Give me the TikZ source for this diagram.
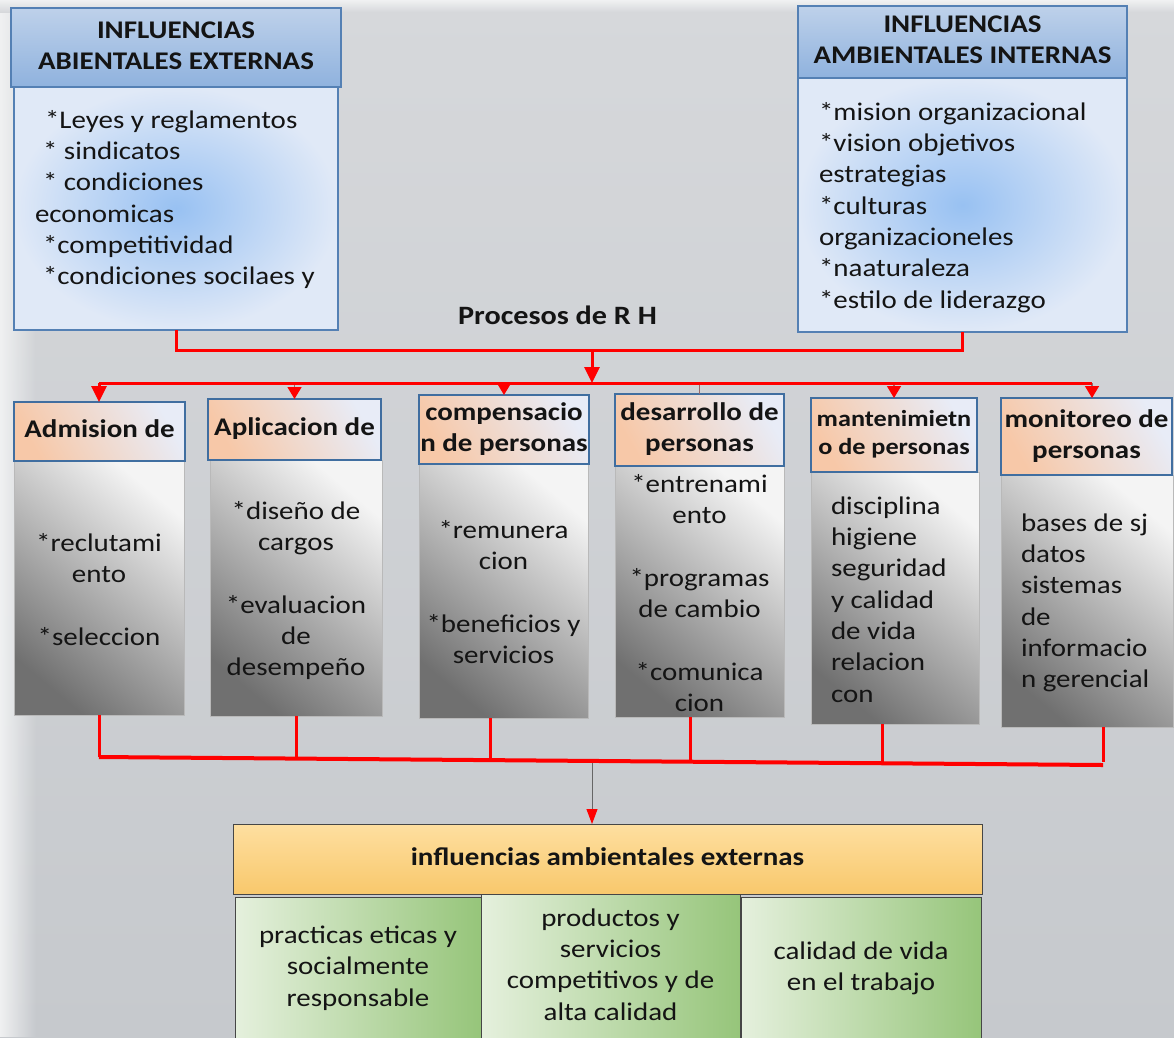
\documentclass[tikz,border=0pt]{standalone}
\usepackage{fontspec}
\setmainfont{Carlito}[FakeStretch=1.14]
\usetikzlibrary{arrows.meta, fadings}

\definecolor{bgtop}{RGB}{214,216,219}
\definecolor{bgbot}{RGB}{198,201,205}
\definecolor{bgedge}{RGB}{240,241,242}
\definecolor{hdrtop}{RGB}{190,209,234}
\definecolor{hdrbot}{RGB}{143,178,222}
\definecolor{hdredge}{RGB}{84,128,180}
\definecolor{bluein}{RGB}{152,193,242}
\definecolor{blueout}{RGB}{224,233,247}
\definecolor{peach}{RGB}{247,200,168}
\definecolor{paleblue}{RGB}{232,236,247}
\definecolor{procedge}{RGB}{64,110,160}
\definecolor{graydark}{RGB}{112,112,112}
\definecolor{graymid}{RGB}{212,212,212}
\definecolor{graylight}{RGB}{244,244,244}
\definecolor{grayedge}{RGB}{185,185,185}
\definecolor{orangetop}{RGB}{254,223,160}
\definecolor{orangebot}{RGB}{248,200,108}
\definecolor{greenl}{RGB}{229,240,221}
\definecolor{greenr}{RGB}{150,197,122}
\definecolor{darkedge}{RGB}{70,70,70}
\definecolor{stubcol}{RGB}{150,105,105}
\definecolor{textcol}{RGB}{20,20,20}

\tikzfading[name=edgefade, left color=transparent!0, right color=transparent!100]

\newcommand{\bodyfont}{\fontsize{25.4}{31.3}\selectfont}
\newcommand{\smallhdfont}{\fontsize{23}{28}\selectfont\bfseries}

\begin{document}
\begin{tikzpicture}[x=1pt, y=-1pt,
  box/.style={draw, inner sep=0pt, outer sep=0pt, align=center, text=textcol, font=\bodyfont},
  tophead/.style={box, draw=hdredge, line width=1.5pt, top color=hdrtop, bottom color=hdrbot, font=\bodyfont\bfseries},
  topbody/.style={box, draw=hdredge, line width=1.5pt, inner color=bluein, outer color=blueout},
  prochead/.style={box, draw=procedge, line width=2pt, bottom color=peach, top color=paleblue, shading angle=-60, font=\bodyfont\bfseries},
  procbody/.style={box, draw=grayedge, line width=1pt, bottom color=graydark, middle color=graymid, top color=graylight, shading angle=-40},
  result/.style={box, draw=darkedge, line width=1pt, top color=orangetop, bottom color=orangebot, font=\bodyfont\bfseries},
  outcome/.style={box, draw=darkedge, line width=1pt, left color=greenl, right color=greenr},
  txt/.style={inner sep=0pt, outer sep=0pt, text=textcol, font=\bodyfont},
  link/.style={draw=red, line width=3pt},
  stub/.style={draw=stubcol, line width=1.5pt},
  stubtip/.style={-{Triangle[color=red, width=14pt, length=12pt]}},
  bigtip/.style={-{Triangle[width=15pt, length=16pt]}},
  thinlink/.style={draw=black!60, line width=1pt, -{Triangle[color=red, width=11pt, length=15pt]}}
]
\useasboundingbox (0,0) rectangle (1174,1037);

% backdrop
\shade[top color=bgtop, bottom color=bgbot] (0,0) rectangle (1174,1037);
\fill[bgedge, path fading=edgefade] (0,0) rectangle (36,1037);
\shade[top color=bgedge, bottom color=bgtop] (0,0) rectangle (1174,12);

% external and internal influences
\node[topbody, minimum width=324pt, minimum height=243pt] (tlb) at (176,208.5) {};
\node[tophead, minimum width=330pt, minimum height=79pt] (tlh) at (176,47.5) {\strut INFLUENCIAS\\ABIENTALES EXTERNAS\strut};
\node[txt, anchor=north west, align=left] (tlt) at (35,106.3)
  {\strut\hspace*{10pt}*Leyes y reglamentos\\{}\hspace*{8pt}* sindicatos\\{}\hspace*{8pt}* condiciones\\economicas\\{}\hspace*{8pt}*competitividad\\{}\hspace*{8pt}*condiciones socilaes y};

\node[topbody, minimum width=329pt, minimum height=254pt] (trb) at (962.5,205) {};
\node[tophead, minimum width=329pt, minimum height=72pt] (trh) at (962.5,42) {\strut INFLUENCIAS\\AMBIENTALES INTERNAS\strut};
\node[txt, anchor=north west, align=left] (trt) at (819,98.3)
  {\strut*mision organizacional\\{}*vision objetivos\\estrategias\\{}*culturas\\organizacioneles\\{}*naaturaleza\\{}*estilo de liderazgo};

\node[txt, font=\fontsize{26.5}{31}\selectfont\bfseries] (proc) at (557.5,315) {Procesos de R H};

% process bodies
\node[procbody, minimum width=170pt, minimum height=254pt] (b1) at (99,588) {};
\node[procbody, minimum width=172pt, minimum height=256pt] (b2) at (296,588) {};
\node[procbody, minimum width=169pt, minimum height=254pt] (b3) at (503.5,591) {};
\node[procbody, minimum width=169pt, minimum height=251pt] (b4) at (699.5,591.5) {};
\node[procbody, minimum width=168pt, minimum height=252pt] (b5) at (895,598) {};
\node[procbody, minimum width=172pt, minimum height=252pt] (b6) at (1087,601) {};

% process headers
\node[prochead, minimum width=171pt, minimum height=59pt] (h1) at (99.5,431.5) {\strut Admision de};
\node[prochead, minimum width=173pt, minimum height=61pt] (h2) at (294.5,429.5) {\strut Aplicacion de};
\node[prochead, minimum width=170pt, minimum height=69pt] (h3) at (504,429.5) {\strut compensacio\\n de personas\strut};
\node[prochead, minimum width=169pt, minimum height=72pt] (h4) at (699.5,430) {\strut desarrollo de\\personas\strut};
\node[prochead, minimum width=166pt, minimum height=74pt, font=\smallhdfont] (h5) at (894,435) {\strut mantenimietn\\o de personas\strut};
\node[prochead, minimum width=171pt, minimum height=77pt] (h6) at (1086.5,436.5) {\strut monitoreo de\\personas\strut};

% process contents
\node[txt, anchor=north, align=center] (t1) at (99,529.3) {\strut*reclutami\\ento\\[31.3pt]*seleccion};
\node[txt, anchor=north, align=center] (t2) at (296,497.3) {\strut*diseño de\\cargos\\[31.3pt]*evaluacion\\de\\desempeño};
\node[txt, anchor=north, align=center] (t3) at (503.5,516.3) {\strut*remunera\\cion\\[31.3pt]*beneficios y\\servicios};
\node[txt, anchor=north, align=center] (t4) at (699.5,470.3) {\strut*entrenami\\ento\\[31.3pt]*programas\\de cambio\\[31.3pt]*comunica\\cion};
\node[txt, anchor=north west, align=left] (t5) at (831,492.3) {\strut disciplina\\higiene\\seguridad\\y calidad\\de vida\\relacion\\con};
\node[txt, anchor=north west, align=left] (t6) at (1021,509.3) {\strut bases de sj\\datos\\sistemas\\de\\informacio\\n gerencial};

% outcomes
\node[result, minimum width=749pt, minimum height=70pt] (res) at (607.5,859) {\strut influencias ambientales externas};
\node[outcome, minimum width=246pt, minimum height=143pt] (g1) at (358,968.5) {\strut practicas eticas y\\socialmente\\responsable\strut};
\node[outcome, minimum width=240pt, minimum height=143pt] (g3) at (861,968.5) {\strut calidad de vida\\en el trabajo\strut};
\node[outcome, minimum width=259pt, minimum height=146pt] (g2) at (610.5,967) {\strut productos y\\servicios\\competitivos y de\\alta calidad\strut};

% upper connectors
\coordinate (jm) at (592,350);
\coordinate (busL) at (99,383);
\coordinate (busM) at (592,383);
\coordinate (busR) at (1092,383);
\draw[link] (tlb.south) -- (tlb.south |- jm) -- (trb.south |- jm) -- (trb.south);
\draw[stub, stubtip] (h2.north |- busL) -- (h2.north);
\draw[stub, stubtip] (h3.north |- busL) -- (h3.north);
\draw[stub] (h4.north |- busL) -- (h4.north);
\draw[stub, stubtip] (h5.north |- busL) -- (h5.north);
\draw[stub, stubtip] (busR) -- (busR |- h6.north);
\draw[link] (busL) -- (busR);
\draw[link, bigtip] (jm) -- (busM);
\draw[link, bigtip] (busL) -- (busL |- h1.north);

% lower connectors
\coordinate (q1) at (99,757);
\coordinate (q2) at (296,758.6);
\coordinate (q3) at (490,760.1);
\coordinate (q4) at (690,761.7);
\coordinate (q5) at (882,763.2);
\coordinate (q6) at (1103,765);
\coordinate (qm) at (592,763);
\draw[link] (q1 |- b1.south) -- (q1);
\draw[link] (q2 |- b2.south) -- (q2);
\draw[link] (q3 |- b3.south) -- (q3);
\draw[link] (q4 |- b4.south) -- (q4);
\draw[link] (q5 |- b5.south) -- (q5);
\draw[link] (q6 |- b6.south) -- ([yshift=3pt]q6);
\draw[link, line width=4pt] (q1) -- (q6);
\draw[thinlink] (qm) -- (qm |- res.north);
\end{tikzpicture}
\end{document}
